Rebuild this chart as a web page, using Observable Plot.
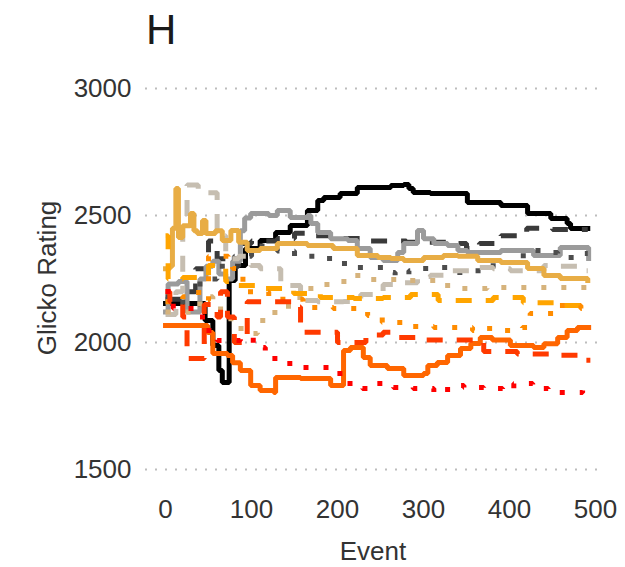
<!DOCTYPE html>
<html><head><meta charset="utf-8">
<script src="https://cdn.jsdelivr.net/npm/d3@7"></script>
<script src="https://cdn.jsdelivr.net/npm/@observablehq/plot@0.6"></script>
<style>
body{margin:0;background:#fff;}
#wrap{position:relative;width:625px;height:567px;font-family:"Liberation Sans",Arial,sans-serif;}
#title{position:absolute;left:146px;top:9px;font-size:42px;line-height:1;color:#1a1a1a;}
</style></head><body><div id="wrap"><div id="title">H</div></div>
<script>
// x ticks / y ticks
const xTicks = [0, 100, 200, 300, 400, 500];
const yTicks = [1500, 2000, 2500, 3000];

// each series: [event, rating]
const blackSolid = [[0,2154],[20,2154],[40,2154],[46,2087],[55,1988],[62,1890],[66,1843],[73,1843],[74,2244],[81,2303],[93,2370],[110,2402],[128,2433],[145,2461],[165,2520],[177,2559],[184,2571],[203,2587],[223,2610],[262,2618],[277,2622],[283,2606],[288,2591],[308,2587],[340,2587],[351,2551],[390,2539],[421,2508],[448,2488],[467,2469],[471,2449],[491,2449]];
const darkDashed = [[0,2170],[20,2200],[35,2290],[50,2400],[60,2330],[75,2300],[85,2390],[100,2400],[130,2410],[150,2430],[175,2420],[200,2410],[230,2400],[280,2395],[320,2395],[340,2390],[350,2370],[365,2390],[390,2420],[420,2450],[450,2445],[491,2445]];
const graySolid = [[0,2120],[3,2230],[15,2240],[25,2120],[37,2120],[40,2250],[47,2300],[55,2320],[62,2270],[70,2250],[78,2320],[87,2440],[92,2490],[99,2508],[120,2500],[130,2520],[145,2492],[165,2500],[169,2469],[177,2433],[192,2409],[212,2402],[223,2370],[238,2335],[253,2323],[270,2354],[277,2390],[293,2441],[300,2409],[312,2390],[328,2382],[340,2362],[351,2354],[390,2362],[428,2343],[440,2343],[459,2374],[486,2374],[492,2331]];
const darkDotted = [[0,2180],[20,2150],[40,2250],[60,2300],[80,2340],[100,2380],[130,2360],[150,2340],[180,2331],[198,2311],[219,2295],[244,2295],[253,2276],[267,2264],[283,2283],[293,2291],[310,2295],[328,2276],[349,2283],[381,2315],[416,2362],[440,2354],[456,2335],[479,2350],[491,2350]];
const beigeDashed = [[0,2110],[12,2200],[20,2450],[25,2620],[33,2620],[38,2590],[56,2590],[60,2420],[70,2330],[85,2340],[99,2303],[110,2290],[134,2224],[157,2165],[177,2160],[207,2161],[227,2189],[253,2228],[273,2235],[293,2260],[308,2265],[331,2283],[363,2295],[381,2290],[401,2283],[440,2303],[459,2300],[479,2283],[491,2283]];
const tanDotted = [[0,2120],[30,2125],[40,2180],[55,2150],[64,2094],[76,2055],[95,2035],[107,2087],[116,2118],[134,2126],[143,2177],[169,2228],[200,2240],[215,2264],[236,2248],[273,2244],[317,2224],[340,2213],[374,2217],[415,2217],[491,2215]];
const goldSolid = [[0,2290],[5,2300],[8,2450],[12,2606],[15,2413],[20,2460],[29,2508],[33,2440],[37,2429],[43,2480],[47,2429],[58,2440],[66,2402],[76,2441],[85,2395],[95,2362],[110,2370],[130,2390],[157,2390],[165,2382],[195,2370],[223,2343],[247,2335],[262,2331],[277,2323],[300,2335],[323,2343],[340,2340],[363,2323],[390,2315],[421,2291],[440,2264],[459,2252],[491,2244]];
const orangeDashed = [[0,2420],[3,2250],[20,2256],[40,2256],[50,2303],[60,2300],[70,2240],[84,2224],[106,2213],[149,2193],[180,2177],[219,2173],[253,2177],[285,2189],[317,2165],[347,2165],[381,2177],[416,2157],[455,2146],[491,2146]];
const orangeDotted = [[0,2160],[20,2180],[29,2197],[47,2165],[50,2340],[73,2331],[78,2291],[90,2200],[120,2170],[160,2138],[195,2134],[215,2134],[235,2106],[252,2079],[270,2079],[288,2063],[312,2059],[337,2059],[357,2047],[370,2055],[393,2047],[415,2059],[424,2114],[445,2114],[456,2146],[483,2134],[491,2146]];
const orangeRedSolid = [[0,2067],[49,2039],[55,1957],[72,1949],[78,1920],[87,1890],[99,1831],[110,1811],[126,1803],[128,1862],[157,1858],[188,1858],[192,1831],[203,1831],[207,1969],[215,1980],[230,1941],[238,1909],[258,1898],[277,1870],[300,1878],[305,1909],[316,1921],[328,1949],[343,1976],[355,1996],[366,2020],[380,2010],[401,1988],[428,1980],[440,1995],[456,2020],[467,2047],[479,2059],[492,2059]];
const redDashed = [[0,2200],[5,2160],[15,2150],[20,2100],[25,1937],[41,1937],[45,2150],[60,2100],[64,2200],[72,2100],[80,2000],[95,2160],[119,2160],[150,2140],[157,2040],[177,2040],[200,2000],[215,2000],[233,2030],[253,2040],[270,2020],[293,2010],[343,2010],[370,1965],[390,1965],[409,1955],[436,1955],[451,1950],[467,1950],[486,1930],[494,1930]];
const redDotted = [[0,2201],[6,2201],[9,2134],[31,2134],[43,2047],[60,2008],[87,2020],[102,1980],[116,1937],[131,1917],[153,1902],[178,1902],[195,1878],[209,1839],[229,1819],[244,1839],[265,1823],[288,1819],[312,1803],[328,1831],[347,1823],[370,1819],[392,1811],[405,1839],[427,1819],[445,1803],[467,1803],[485,1819],[491,1819]];

const series = [
  {data: blackSolid, color: "#000000", dash: null},
  {data: darkDashed, color: "#3a3a3a", dash: "16,14"},
  {data: graySolid, color: "#9b9b9b", dash: null},
  {data: darkDotted, color: "#4d4d4d", dash: "5,15"},
  {data: beigeDashed, color: "#c6beb1", dash: "16,14"},
  {data: tanDotted, color: "#d6b37c", dash: "5,15"},
  {data: goldSolid, color: "#e8ad45", dash: null},
  {data: orangeDashed, color: "#ffa500", dash: "16,14"},
  {data: orangeDotted, color: "#ff8c00", dash: "5,15"},
  {data: orangeRedSolid, color: "#ff6600", dash: null},
  {data: redDashed, color: "#ff3a00", dash: "16,14"},
  {data: redDotted, color: "#ff0000", dash: "5,15"}
];

const lineMarks = series.map(s => Plot.line(s.data, {
  x: d => d[0], y: d => d[1], stroke: s.color, strokeWidth: 5,
  strokeDasharray: s.dash ?? undefined, curve: "step-after",
  strokeLinecap: s.dash ? "butt" : "square", strokeLinejoin: "miter"
}));

const chart = Plot.plot({
  width: 625, height: 567,
  marginLeft: 145, marginRight: 25, marginTop: 70, marginBottom: 82,
  style: {fontFamily: "'Liberation Sans', Arial, sans-serif", fontSize: "26px", color: "#333", background: "transparent"},
  x: {domain: [-23.3, 505.8], label: "Event", labelArrow: "none"},
  y: {domain: [1437, 3071], label: "Glicko Rating", labelArrow: "none"},
  marks: [
    Plot.ruleY(yTicks, {stroke: "#bdbdbd", strokeWidth: 2, strokeDasharray: "2,8"}),
    Plot.axisX({ticks: xTicks, tickSize: 0, tickPadding: 14, tickFormat: d => String(d), label: "Event", labelArrow: "none", labelAnchor: "center", labelOffset: 74, fill: "#333"}),
    Plot.axisY({ticks: yTicks, tickSize: 0, tickPadding: 14, tickFormat: d => String(d), label: "Glicko Rating", labelArrow: "none", labelAnchor: "center", labelOffset: 108, fill: "#333"}),
    ...lineMarks
  ]
});
chart.style.position = "absolute";
chart.style.left = "0";
chart.style.top = "0";
document.getElementById("wrap").prepend(chart);
</script>
</body></html>
